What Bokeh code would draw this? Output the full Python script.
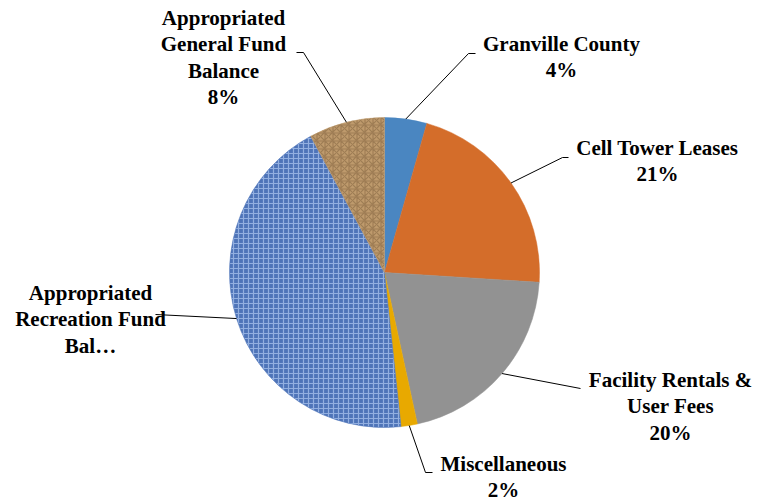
import math
from bokeh.plotting import figure
from bokeh.models import Range1d
from bokeh.core.properties import value
from bokeh.embed import file_html
from bokeh.resources import INLINE

# ---- data ----
categories = ["Granville County", "Cell Tower Leases", "Facility Rentals & User Fees",
              "Miscellaneous", "Appropriated Recreation Fund Balance",
              "Appropriated General Fund Balance"]
shares = [4.4, 21.6, 20.6, 1.7, 43.8, 7.9]
label_lines = [
    ["Granville County", "4%"],
    ["Cell Tower Leases", "21%"],
    ["Facility Rentals &", "User Fees", "20%"],
    ["Miscellaneous", "2%"],
    ["Appropriated", "Recreation Fund", "Bal\u2026"],
    ["Appropriated", "General Fund", "Balance", "8%"],
]

# ---- styles / layout ----
W, H = 765, 502
CX, CY, R = 384, 272, 155          # screen coords
colors = ["#4A86C1", "#D46D2A", "#929292", "#E8A900", "#4E74B8", "#BE9A6C"]
hatch = [None, None, None, None, "cross", "criss_cross"]
hatch_colors = ["#ffffff", "#ffffff", "#ffffff", "#ffffff", "#A3BEEA", "#6E5030"]
hatch_alpha = [0, 0, 0, 0, 0.8, 0.4]
hatch_scale = [1, 1, 1, 1, 5, 8]
label_pos = [(561, 43), (657, 147), (670, 379), (503, 463), (90, 292), (223, 17)]
elbows = [[(468, 53), (475, 53)], [(562, 157), (568, 157)], [(580, 388)],
          [(425, 472), (432, 472)], [(155, 314)], [(303, 52), (296, 52)]]
LINE_H = 26.5
FONT = value("serif")


def fy(y):
    return H - y


p = figure(width=W, height=H, output_backend="svg", toolbar_location=None,
           x_range=Range1d(0, W), y_range=Range1d(0, H),
           x_axis_location=None, y_axis_location=None, min_border=0)
p.grid.visible = False
p.outline_line_color = None
p.background_fill_color = "white"

total = sum(shares)
cum = 0.0
starts, ends, mids = [], [], []
for s in shares:
    a0 = cum / total
    cum += s
    a1 = cum / total
    starts.append(math.pi / 2 - 2 * math.pi * a0)
    ends.append(math.pi / 2 - 2 * math.pi * a1)
    mids.append(2 * math.pi * (a0 + a1) / 2)

for i in range(len(shares)):
    kw = {}
    if hatch[i]:
        kw = dict(hatch_pattern=hatch[i], hatch_color=hatch_colors[i],
                  hatch_alpha=hatch_alpha[i], hatch_scale=hatch_scale[i], hatch_weight=1.2)
    p.wedge(x=CX, y=fy(CY), radius=R, start_angle=starts[i], end_angle=ends[i],
            direction="clock", fill_color=colors[i], line_color=colors[i],
            line_width=0.5, **kw)

for i, m in enumerate(mids):
    sx = CX + R * math.sin(m)
    sy = CY - R * math.cos(m)
    pts = [(sx, sy)] + elbows[i]
    p.line([q[0] for q in pts], [fy(q[1]) for q in pts], line_color="#000000", line_width=1)

for i, lines in enumerate(label_lines):
    x0, y0 = label_pos[i]
    xs = [x0] * len(lines)
    ys = [fy(y0 + k * LINE_H) for k in range(len(lines))]
    p.text(x=xs, y=ys, text=lines, text_align="center", text_baseline="middle",
           text_font=FONT, text_font_style="bold",
           text_font_size="21px", text_color="#000000")

open("out.html", "w").write(file_html(p, INLINE))
